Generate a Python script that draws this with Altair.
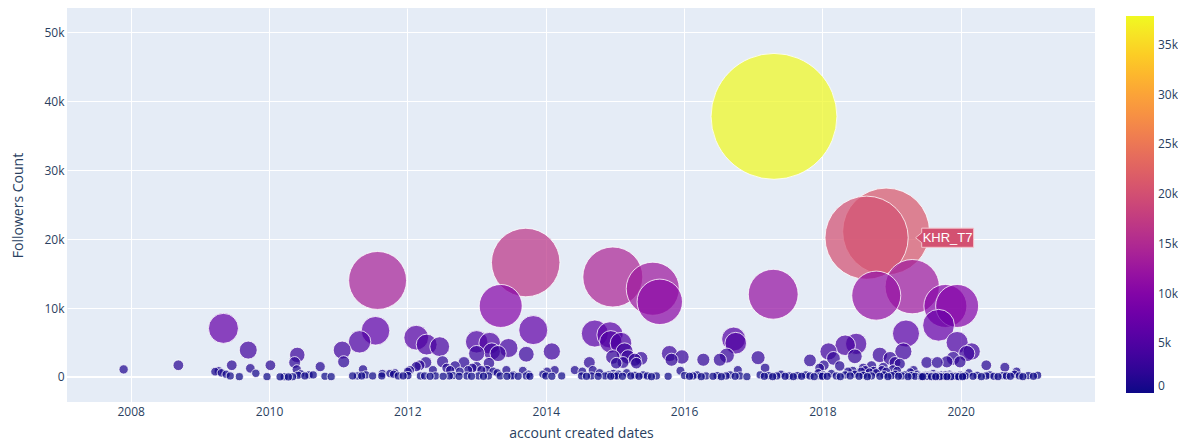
import altair as alt
import pandas as pd

# ---- data (fractional year of account creation, followers) ----
years_2007_2011 = [2007.90, 2008.69, 2009.22, 2009.27, 2009.31, 2009.34, 2009.38, 2009.44, 2009.46, 2009.57,
                   2009.70, 2009.73, 2009.81, 2009.97, 2010.02, 2010.16, 2010.22, 2010.28, 2010.34, 2010.37,
                   2010.40, 2010.41, 2010.42, 2010.46, 2010.52, 2010.58, 2010.64, 2010.74, 2010.81, 2010.90,
                   2011.06, 2011.08, 2011.21, 2011.28, 2011.31, 2011.34, 2011.36, 2011.40, 2011.50, 2011.54,
                   2011.57, 2011.63, 2011.64, 2011.75, 2011.80, 2011.82, 2011.87, 2011.94, 2012.01]
followers_2007_2011 = [1100, 1700, 770, 870, 600, 7050, 400, 150, 1700, 50,
                       3900, 1250, 530, 50, 1700, 20, 30, 10, 40, 2100,
                       1100, 3200, 250, 450, 150, 300, 300, 1500, 100, 50,
                       3900, 2200, 150, 150, 5100, 150, 1100, 300, 150, 6700,
                       14000, 150, 500, 500, 400, 600, 150, 150, 800]

years_2012_2014 = [2012.01, 2012.04, 2012.13, 2012.18, 2012.19, 2012.25, 2012.27, 2012.33, 2012.37, 2012.41,
                   2012.51, 2012.52, 2012.57, 2012.61, 2012.62, 2012.66, 2012.69, 2012.75, 2012.76, 2012.82,
                   2012.86, 2012.88, 2012.93, 2012.94, 2013.00, 2013.03, 2013.07, 2013.10, 2013.15, 2013.17,
                   2013.18, 2013.24, 2013.30, 2013.34, 2013.43, 2013.44, 2013.51, 2013.53, 2013.60, 2013.67,
                   2013.72, 2013.75, 2013.77, 2013.96, 2014.00, 2014.02, 2014.09, 2014.13, 2014.23, 2014.42,
                   2014.52, 2014.53, 2014.59, 2014.63, 2014.66, 2014.68, 2014.76, 2014.78, 2014.86, 2014.91,
                   2014.94, 2014.98, 2015.03,
                   2012.13, 2012.28, 2012.47, 2013.00, 2013.00, 2013.19, 2013.22, 2013.31, 2013.46, 2013.72,
                   2013.82, 2014.09, 2013.35, 2013.71]
followers_2012_2014 = [200, 1000, 1500, 1700, 150, 150, 2100, 100, 1000, 150,
                       2200, 100, 1300, 150, 1000, 200, 1600, 100, 800, 2100,
                       150, 1000, 100, 1300, 1500, 150, 1000, 100, 1000, 150,
                       2000, 800, 600, 150, 1000, 100, 150, 300, 100, 900,
                       150, 400, 100, 400, 150, 800, 100, 1000, 150, 1000,
                       150, 800, 100, 2100, 150, 1000, 100, 600, 150, 300,
                       100, 500, 150,
                       5700, 4700, 4400, 5100, 3400, 4900, 3700, 3400, 4200, 3300,
                       6800, 3700, 10300, 16600]

years_2015_2017 = [2014.71, 2014.93, 2014.94, 2015.09, 2015.14, 2015.19, 2014.97, 2015.02, 2015.31, 2015.38,
                   2015.12, 2015.29, 2015.79, 2015.82, 2015.97, 2016.28, 2016.52, 2016.62, 2016.72, 2016.75,
                   2017.07, 2014.97, 2015.55, 2015.65, 2017.30, 2017.29, 2017.82, 2016.78, 2017.17, 2015.95,
                   2017.96,
                   2014.99, 2015.05, 2015.11, 2015.17, 2015.23, 2015.29, 2015.35, 2015.41, 2015.47, 2015.53,
                   2015.60, 2015.77, 2016.01, 2016.08, 2016.13, 2016.19, 2016.25, 2016.32, 2016.42, 2016.48,
                   2016.54, 2016.61, 2016.67, 2016.74, 2016.81, 2016.91, 2017.10, 2017.16, 2017.22, 2017.28,
                   2017.34, 2017.40, 2017.46, 2017.52, 2017.58, 2017.64, 2017.70, 2017.76, 2017.82, 2017.88,
                   2017.94, 2018.00]
followers_2015_2017 = [6300, 6100, 5100, 4900, 3700, 2900, 2900, 2000, 2000, 2700,
                       2100, 2500, 3400, 2500, 2900, 2500, 2500, 3100, 5500, 4900,
                       2800, 14500, 12800, 10900, 37800, 12000, 2400, 1000, 1300, 900,
                       1300,
                       150, 400, 100, 600, 150, 250, 100, 300, 150, 50,
                       150, 100, 200, 100, 150, 300, 50, 150, 100, 200,
                       50, 150, 300, 100, 150, 50, 300, 100, 200, 50,
                       150, 400, 100, 150, 50, 200, 100, 300, 150, 50,
                       600, 100]

years_2018_2021 = [2018.64, 2018.92, 2018.78, 2019.30, 2019.78, 2019.95, 2019.68, 2019.21, 2019.17, 2019.95,
                   2020.09, 2020.16, 2018.09, 2018.16, 2018.33, 2018.49, 2018.47, 2018.83, 2018.98, 2019.05,
                   2018.25, 2018.59, 2018.71, 2018.88, 2019.12, 2019.51, 2019.66, 2019.80, 2019.89, 2019.99,
                   2020.37, 2020.64, 2020.81, 2018.02,
                   2017.97, 2018.01, 2018.07, 2018.13, 2018.20, 2018.26, 2018.33, 2018.40, 2018.47, 2018.53,
                   2018.59, 2018.65, 2018.71, 2018.78, 2018.83, 2018.89, 2018.95, 2019.00, 2019.05, 2019.10,
                   2019.15, 2019.19, 2019.24, 2019.29, 2019.34, 2019.37, 2019.41, 2019.45, 2019.49, 2019.53,
                   2019.56, 2019.60, 2019.64, 2019.68, 2019.72, 2019.76, 2019.80, 2019.84, 2019.87, 2019.91,
                   2019.95, 2019.99, 2020.03, 2020.07, 2020.12, 2020.18, 2020.24, 2020.30, 2020.37, 2020.42,
                   2020.48, 2020.54, 2020.61, 2020.66, 2020.72, 2020.78, 2020.85, 2020.90, 2020.98, 2021.05,
                   2021.11,
                   2019.43, 2019.47, 2019.51, 2019.55, 2019.58, 2019.62, 2019.66, 2019.70, 2019.74, 2019.78,
                   2019.82, 2019.86, 2019.89, 2019.93, 2019.97, 2020.01, 2020.05,
                   2018.56, 2018.62, 2018.68, 2018.74, 2018.86, 2018.92, 2019.02, 2019.08, 2019.27, 2019.32,
                   2018.44, 2018.37]
followers_2018_2021 = [20200, 21100, 11800, 13100, 10300, 10300, 7500, 6300, 3700, 5000,
                       3400, 3700, 3700, 2700, 4600, 4800, 3000, 3200, 2700, 2100,
                       1600, 1300, 1600, 1400, 1900, 2100, 2100, 2200, 2700, 2200,
                       1700, 1400, 800, 1700,
                       150, 300, 100, 500, 150, 50, 300, 150, 400, 100,
                       250, 50, 150, 600, 100, 300, 50, 200, 400, 100,
                       150, 300, 50, 200, 100, 400, 150, 50, 300, 100,
                       200, 500, 50, 150, 300, 100, 50, 400, 150, 200,
                       100, 300, 50, 150, 600, 100, 250, 50, 150, 300,
                       100, 50, 200, 150, 100, 400, 150, 50, 200, 100,
                       250,
                       50, 200, 100, 300, 50, 150, 250, 50, 100, 300,
                       150, 50, 200, 100, 50, 250, 150,
                       800, 1000, 700, 900, 1000, 800, 1100, 900, 700, 1000,
                       900, 800]

label_name = "KHR_T7"
label_year = 2018.64
label_followers = 20200

colorbar_ticks = [0, 5000, 10000, 15000, 20000, 25000, 30000, 35000]
y_ticks = [0, 10000, 20000, 30000, 40000, 50000]
x_tick_years = [2008, 2010, 2012, 2014, 2016, 2018, 2020]


def to_date(y):
    yr = int(y)
    d = pd.Timestamp(year=yr, month=1, day=1) + pd.Timedelta(days=(y - yr) * 365.25)
    return d.strftime("%Y-%m-%d")


years = years_2007_2011 + years_2012_2014 + years_2015_2017 + years_2018_2021
followers = followers_2007_2011 + followers_2012_2014 + followers_2015_2017 + followers_2018_2021
df = pd.DataFrame({"date": [to_date(y) for y in years], "followers": followers})
df = df.sort_values("followers", ascending=False).reset_index(drop=True)

lab = pd.DataFrame({"date": [to_date(label_year)], "followers": [label_followers], "name": [label_name]})

TXT = "#2a3f5f"
FONT = "Open Sans"
K_LABEL = "datum.value == 0 ? '0' : format(datum.value / 1000, 'd') + 'k'"

x_enc = alt.X(
    "date:T",
    scale=alt.Scale(domain=[alt.DateTime(year=2007, month=1, date=30),
                            alt.DateTime(year=2021, month=12, date=10)]),
    axis=alt.Axis(title="account created dates",
                  values=[alt.DateTime(year=y) for y in x_tick_years], format="%Y",
                  grid=True, gridColor="white", gridWidth=1, domain=False, ticks=False,
                  labelPadding=4, labelColor=TXT, labelFontSize=12, labelFont=FONT,
                  titleColor=TXT, titleFontSize=14, titleFont=FONT, titleFontWeight="normal",
                  titlePadding=9),
)
y_enc = alt.Y(
    "followers:Q",
    scale=alt.Scale(domain=[-3630, 53520], nice=False, zero=False),
    axis=alt.Axis(title="Followers Count", values=y_ticks, labelExpr=K_LABEL,
                  grid=True, gridColor="white", gridWidth=1, domain=False, ticks=False,
                  labelPadding=3, labelColor=TXT, labelFontSize=12, labelFont=FONT,
                  titleColor=TXT, titleFontSize=14, titleFont=FONT, titleFontWeight="normal",
                  titlePadding=18),
)
color_scale = alt.Scale(scheme="plasma", domain=[0, 37900])
color_enc = alt.Color(
    "followers:Q", scale=color_scale,
    legend=alt.Legend(title=None, orient="none", legendX=1059, legendY=8, direction="vertical",
                      gradientLength=377, gradientThickness=28, gradientStrokeWidth=0,
                      gradientOpacity=1, labelBaseline="middle",
                      values=colorbar_ticks, labelExpr=K_LABEL, labelColor=TXT, labelFontSize=12,
                      labelFont=FONT, labelOffset=4, padding=0),
)

zero = alt.Chart(lab).mark_rule(color="white", strokeWidth=2).encode(y=alt.datum(0))

bubbles = alt.Chart(df).mark_circle(fillOpacity=0.72, strokeOpacity=0.8, stroke="white",
                                    strokeWidth=1).encode(
    x=x_enc,
    y=y_enc,
    color=color_enc,
    size=alt.Size("followers:Q",
                  scale=alt.Scale(type="pow", exponent=2, domain=[0, 21100, 37800],
                                  range=[66, 7543, 15837]),
                  legend=None),
    order=alt.Order("followers:Q", sort="descending"),
)

tag_path = "M-1,0L-0.79,-0.17L-0.79,-0.33L1,-0.33L1,0.33L-0.79,0.33L-0.79,0.17Z"
tag = alt.Chart(lab).mark_point(shape=tag_path, size=3364, filled=True, opacity=1,
                                stroke="#f3c4cc", strokeWidth=1, xOffset=78).encode(
    x="date:T", y="followers:Q", color=alt.Color("followers:Q", scale=color_scale))
tag_text = alt.Chart(lab).mark_text(color="white", font="Liberation Sans", fontSize=13,
                                    dx=81, dy=0.5, align="center", baseline="middle").encode(
    x="date:T", y="followers:Q", text="name:N")

chart = alt.layer(zero, bubbles, tag, tag_text).properties(
    width=1028, height=394,
    autosize=alt.AutoSizeParams(type="none"),
    padding={"left": 59, "top": 0, "right": 83, "bottom": 44},
).configure(background="white").configure_view(fill="#E5ECF6", stroke=None)

chart.save("out.html", embed_options={"renderer": "svg", "actions": False})
